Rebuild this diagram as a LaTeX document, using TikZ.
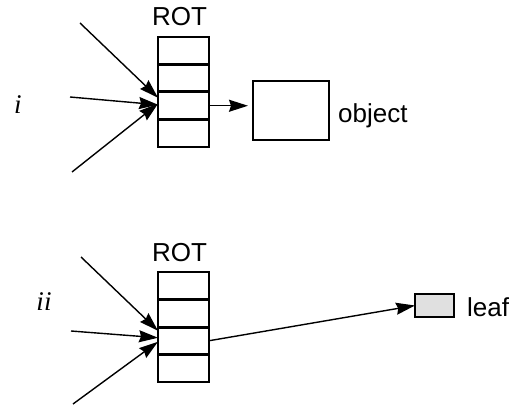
\documentclass[tikz,border=0pt]{standalone}
\usepackage{fontspec}
\setmainfont{Liberation Sans}
\newfontfamily\romfont{Liberation Serif}
\usetikzlibrary{positioning,arrows.meta}

\begin{document}
\begin{tikzpicture}[x=1pt, y=-1pt, font=\fontsize{26}{30}\selectfont,
  cell/.style={draw, line width=1.3pt, minimum width=51pt, minimum height=27.5pt, inner sep=0pt, outer sep=0pt},
  sep/.style={line width=3pt},
  box/.style={draw, line width=1.3pt, inner sep=0pt, outer sep=0pt},
  ptr/.style={line width=1.4pt, -{Stealth[length=19pt,width=12pt,inset=2pt]}},
  lbl/.style={inner sep=0pt},
  rom/.style={inner sep=0pt, font=\romfont\itshape\fontsize{27}{30}\selectfont}]
  \useasboundingbox (0,0) rectangle (511,406);
  % case i: ROT entry pointing to an object
  \node[cell] (a1) at (183.5,50.75) {};
  \node[cell, below=0pt of a1] (a2) {};
  \node[cell, below=0pt of a2] (a3) {};
  \node[cell, below=0pt of a3] (a4) {};
  \foreach \c in {a1,a2,a3}
    \draw[sep] (\c.south west) -- (\c.south east);
  \node[lbl, above=11pt of a1, xshift=-4pt] (rotA) {ROT};
  \node[box, minimum width=76pt, minimum height=59pt] (obj) at (291,110.5) {};
  \node[lbl, anchor=base west] (objlbl) at ([xshift=9pt,yshift=-12pt]obj.east) {object};
  \node[rom, anchor=base] (caseA) at (18,114) {i};
  \coordinate (t1) at (80,23);
  \coordinate (t2) at (70,97);
  \coordinate (t3) at (72,172);
  \draw[ptr] (t1) -- ([yshift=8pt]a3.west);
  \draw[ptr] (t2) -- ([yshift=1pt]a3.west);
  \draw[ptr] (t3) -- ([yshift=2pt]a3.west);
  \draw[ptr, shorten >=5pt] (a3.east) -- (a3.east -| obj.west);
  % case ii: ROT entry pointing to a leaf
  \node[cell] (b1) at (183.5,285.75) {};
  \node[cell, below=0pt of b1] (b2) {};
  \node[cell, below=0pt of b2] (b3) {};
  \node[cell, below=0pt of b3] (b4) {};
  \foreach \c in {b1,b2,b3}
    \draw[sep] (\c.south west) -- (\c.south east);
  \node[lbl, above=10pt of b1, xshift=-4pt] (rotB) {ROT};
  \node[box, fill=black!12, minimum width=39pt, minimum height=23pt] (leaf) at (434.5,305.5) {};
  \node[lbl, anchor=base west] (leaflbl) at ([xshift=13pt,yshift=-10.5pt]leaf.east) {leaf};
  \node[rom, anchor=base] (caseB) at (44,310) {ii};
  \coordinate (s1) at (81,257);
  \coordinate (s2) at (71,331);
  \coordinate (s3) at (73,404);
  \draw[ptr] (s1) -- ([yshift=10pt]b3.west);
  \draw[ptr] (s2) -- ([yshift=3pt]b3.west);
  \draw[ptr] (s3) -- ([yshift=-1pt]b3.west);
  \draw[ptr] (b3.east) -- (leaf.west);
\end{tikzpicture}
\end{document}
